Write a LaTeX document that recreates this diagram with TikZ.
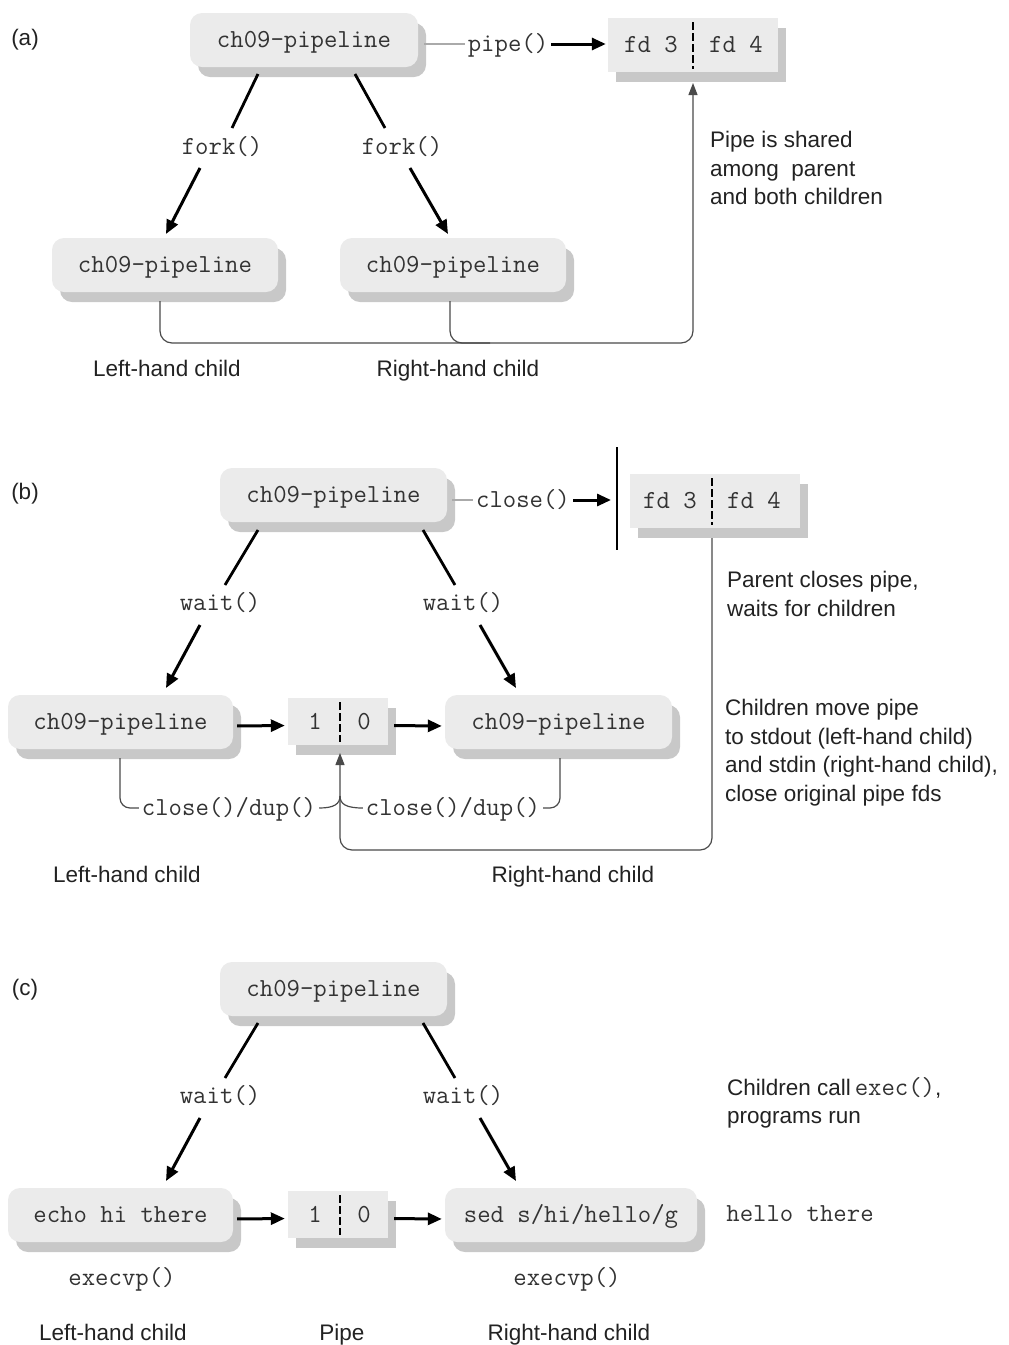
\documentclass[tikz,border=0pt]{standalone}
\usepackage{fontspec}
\setmainfont{Liberation Sans}
\usetikzlibrary{shadows,arrows.meta}
\definecolor{boxfill}{HTML}{EBEBEB}
\definecolor{shadowc}{HTML}{C8C8C8}
\definecolor{monotext}{HTML}{333333}
\definecolor{conncol}{HTML}{4A4A4A}
\definecolor{paleline}{HTML}{AAAAAA}
\definecolor{sanstext}{HTML}{222222}
\newcommand\monofnt{\ttfamily\fontsize{26}{30}\selectfont}
\newcommand\sansfnt{\rmfamily\fontsize{22.5}{28.5}\selectfont}
\begin{document}
\begin{tikzpicture}[x=1pt,y=-1pt,
  shadowed/.style={drop shadow={shadow xshift=8pt,shadow yshift=-10pt,fill=shadowc,opacity=1}},
  proc/.style={fill=boxfill, rounded corners=12pt, minimum height=54pt, inner sep=0pt, font=\monofnt, text=monotext, text height=20pt, text depth=4.5pt, shadowed},
  fdbox/.style={fill=boxfill, minimum height=54pt, inner sep=0pt, shadowed},
  mono/.style={font=\monofnt, text=monotext, inner sep=3pt, text height=20pt, text depth=4.5pt},
  sans/.style={font=\sansfnt, text=sanstext, inner sep=0pt},
  bigarrow/.style={line width=3pt, -{Triangle[length=14pt,width=12pt]}},
  thickline/.style={line width=2.8pt},
  conn/.style={line width=1.2pt, conncol, rounded corners=12pt},
  connarrow/.style={conn, -{Triangle[length=12pt,width=9pt]}},
  divider/.style={line width=1.1pt, dash pattern=on 8pt off 3pt},
  pale/.style={line width=1.6pt, paleline}
]
\useasboundingbox (0,0) rectangle (1009,1345);

% ---------------- (a) ----------------
\node[sans] (la) at (25,40) {(a)};
\node[proc, minimum width=228pt] (pa) at (304,40) {ch09-pipeline};
\node[fdbox, minimum width=170pt] (fda) at (693,45) {};
\node[mono] (fd3a) at (651,45) {fd 3};
\node[mono] (fd4a) at (736,45) {fd 4};
\coordinate (da1) at (693,22); \coordinate (da2) at (693,69);
\draw[divider] (da1) -- (da2);
\node[mono] (pipelbl) at (508,44) {pipe()};
\coordinate (pae) at (424,44);
\draw[pale] (pae) -- (pipelbl.west);
\draw[bigarrow, shorten >=2pt] (pipelbl.east) -- (pipelbl.east -| fda.west);

\coordinate (a1) at (258,74); \coordinate (a2) at (232,128);
\coordinate (a3) at (200,168); \coordinate (a4) at (166,234);
\node[mono] (fka) at (222,147) {fork()};
\draw[thickline] (a1) -- (a2);
\draw[bigarrow] (a3) -- (a4);
\coordinate (a5) at (355,74); \coordinate (a6) at (385,128);
\coordinate (a7) at (410,168); \coordinate (a8) at (448,234);
\node[mono] (fkb) at (402,147) {fork()};
\draw[thickline] (a5) -- (a6);
\draw[bigarrow] (a7) -- (a8);

\node[proc, minimum width=226pt] (lca) at (165,265) {ch09-pipeline};
\node[proc, minimum width=226pt] (rca) at (453,265) {ch09-pipeline};

\coordinate (ca1) at (160,301); \coordinate (ca3) at (693,343); \coordinate (ca4) at (693,83);
\coordinate (ca2) at (450,301); \coordinate (ca5) at (490,343);
\draw[connarrow] (ca1) |- (ca3) -- (ca4);
\draw[conn] (ca2) |- (ca5);

\node[sans, align=left, anchor=north west] (ta) at (710,131) {Pipe is shared\\among\ \ parent\\and both children};
\node[sans, anchor=base] (lha) at (167,376) {Left-hand child};
\node[sans, anchor=base] (rha) at (458,376) {Right-hand child};

% ---------------- (b) ----------------
\node[sans] (lb) at (25,494) {(b)};
\node[proc, minimum width=227pt] (pb) at (333.5,495) {ch09-pipeline};
\node[mono] (closelbl) at (523,500) {close()};
\coordinate (pbe) at (452,500);
\draw[pale] (pbe) -- (closelbl.west);
\coordinate (bar1) at (617,447); \coordinate (bar2) at (617,550); \coordinate (barhit) at (611,500);
\draw[line width=2pt] (bar1) -- (bar2);
\draw[bigarrow] (closelbl.east) -- (barhit);
\node[fdbox, minimum width=170pt] (fdb) at (715,501) {};
\node[mono] (fd3b) at (670,501) {fd 3};
\node[mono] (fd4b) at (754,501) {fd 4};
\coordinate (db1) at (712,478); \coordinate (db2) at (712,525);
\draw[divider] (db1) -- (db2);

\coordinate (b1) at (258,530); \coordinate (b2) at (225,585);
\coordinate (b3) at (200,625); \coordinate (b4) at (166,688);
\node[mono] (wla) at (220,603) {wait()};
\draw[thickline] (b1) -- (b2);
\draw[bigarrow] (b3) -- (b4);
\coordinate (b5) at (423,530); \coordinate (b6) at (455,585);
\coordinate (b7) at (480,625); \coordinate (b8) at (516,688);
\node[mono] (wlb) at (463,603) {wait()};
\draw[thickline] (b5) -- (b6);
\draw[bigarrow] (b7) -- (b8);

\node[proc, minimum width=225pt] (lcb) at (120.5,722) {ch09-pipeline};
\node[fdbox, minimum width=100pt, minimum height=47pt] (pipeb) at (338,721.5) {};
\node[mono] (oneb) at (315,722) {1};
\node[mono] (zerob) at (364,722) {0};
\coordinate (pb1) at (340,702); \coordinate (pb2) at (340,742);
\draw[divider] (pb1) -- (pb2);
\node[proc, minimum width=227pt] (rcb) at (558.5,722) {ch09-pipeline};
\draw[bigarrow, shorten <=4pt, shorten >=3pt] ([yshift=-4pt]lcb.east) -- ([yshift=-4pt]pipeb.west);
\draw[bigarrow, shorten <=6pt, shorten >=3pt] ([yshift=-4pt]pipeb.east) -- ([yshift=-4pt]rcb.west);

\node[mono] (cdl) at (229,808) {close()/dup()};
\node[mono] (cdr) at (453,808) {close()/dup()};
\coordinate (lcbot) at (120,758); \coordinate (rcbot) at (560,758);
\draw[conn, rounded corners=10pt] (lcbot) |- (cdl.west);
\draw[conn, rounded corners=10pt] (rcbot) |- (cdr.east);
\coordinate (hump) at (340,796);
\draw[conn] (cdl.east) .. controls (334,808) and (340,804) .. (hump);
\draw[conn] (cdr.west) .. controls (346,808) and (340,804) .. (hump);
\coordinate (fdbbot) at (712,538); \coordinate (bigc) at (340,850); \coordinate (pipebot) at (340,753);
\draw[connarrow] (fdbbot) |- (bigc) -- (pipebot);

\node[sans, align=left, anchor=north west] (tb1) at (727,571) {Parent closes pipe,\\waits for children};
\node[sans, align=left, anchor=north west] (tb2) at (725,699) {Children move pipe\\to stdout (left-hand child)\\and stdin (right-hand child),\\close original pipe fds};
\node[sans, anchor=base] (lhb) at (127,882) {Left-hand child};
\node[sans, anchor=base] (rhb) at (573,882) {Right-hand child};

% ---------------- (c) ----------------
\node[sans] (lc) at (25,990) {(c)};
\node[proc, minimum width=227pt] (pc) at (333.5,989) {ch09-pipeline};
\coordinate (c1) at (258,1023); \coordinate (c2) at (225,1078);
\coordinate (c3) at (200,1118); \coordinate (c4) at (166,1181);
\node[mono] (wlc) at (220,1096) {wait()};
\draw[thickline] (c1) -- (c2);
\draw[bigarrow] (c3) -- (c4);
\coordinate (c5) at (423,1023); \coordinate (c6) at (455,1078);
\coordinate (c7) at (480,1118); \coordinate (c8) at (516,1181);
\node[mono] (wld) at (463,1096) {wait()};
\draw[thickline] (c5) -- (c6);
\draw[bigarrow] (c7) -- (c8);

\node[proc, minimum width=225pt] (lcc) at (120.5,1215) {echo hi there};
\node[fdbox, minimum width=100pt, minimum height=47pt] (pipec) at (338,1214.5) {};
\node[mono] (onec) at (315,1215) {1};
\node[mono] (zeroc) at (364,1215) {0};
\coordinate (pc1) at (340,1195); \coordinate (pc2) at (340,1235);
\draw[divider] (pc1) -- (pc2);
\node[proc, minimum width=252pt] (rcc) at (571,1215) {sed s/hi/hello/g};
\draw[bigarrow, shorten <=4pt, shorten >=3pt] ([yshift=-4pt]lcc.east) -- ([yshift=-4pt]pipec.west);
\draw[bigarrow, shorten <=6pt, shorten >=3pt] ([yshift=-4pt]pipec.east) -- ([yshift=-4pt]rcc.west);
\node[mono] (hello) at (800,1214) {hello there};
\node[mono] (exl) at (122,1278) {execvp()};
\node[mono] (exr) at (567,1278) {execvp()};

\node[sans, align=left, anchor=north west] (tc) at (727,1077) {Children call\,{\monofnt\color{monotext}exec()},\\programs run};
\node[sans, anchor=base] (lhc) at (113,1340) {Left-hand child};
\node[sans, anchor=base] (pipetxt) at (342,1340) {Pipe};
\node[sans, anchor=base] (rhc) at (569,1340) {Right-hand child};
\end{tikzpicture}
\end{document}
